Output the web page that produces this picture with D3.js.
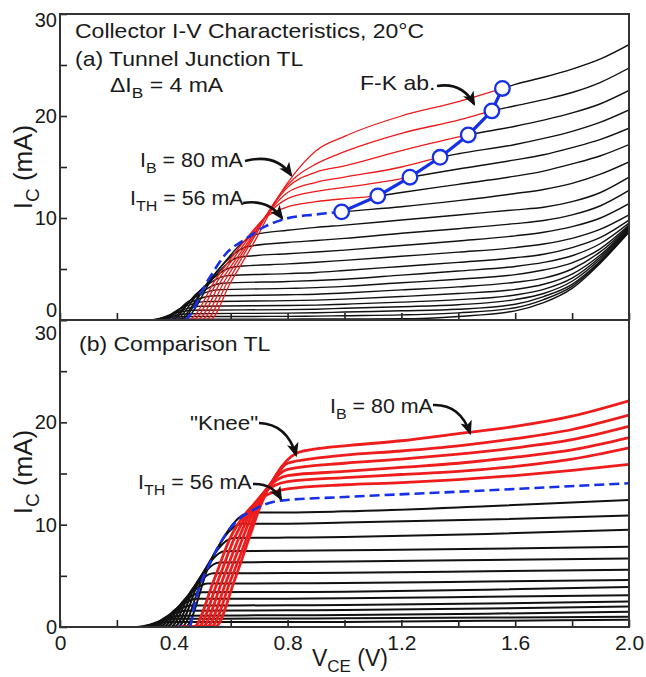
<!DOCTYPE html>
<html>
<head>
<meta charset="utf-8">
<script src="https://cdn.jsdelivr.net/npm/d3@7"></script>
<style>
  body { margin: 0; background: #fff; }
  svg text { font-family: Arial, "Liberation Sans", sans-serif; fill: #1a1a1a; }
</style>
</head>
<body>
<svg id="chart" width="646" height="677"></svg>
<script>
// base currents (mA)
const ibBlack = [0, 4, 8, 12, 16, 20, 24, 28, 32, 36, 40, 44, 48, 52];
const ibThreshold = 56;
const ibRed = [60, 64, 68, 72, 76, 80];

// axis ticks
const xTicks = [0, 0.2, 0.4, 0.6, 0.8, 1.0, 1.2, 1.4, 1.6, 1.8, 2.0];
const xLabels = ["0", "", "0.4", "", "0.8", "", "1.2", "", "1.6", "", "2.0"];
const yTicks = [0, 5, 10, 15, 20, 25, 30];
const yLabels = ["0", "", "10", "", "20", "", "30"];

// ---- (a) Tunnel Junction TL ----
// turn-on part of each black curve, [V, mA]
const topBlackRise = [
  [[0.30, 0], [0.36, 0.05], [0.42, 0.08]],
  [[0.31, 0], [0.37, 0.2], [0.43, 0.33]],
  [[0.32, 0], [0.38, 0.35], [0.45, 0.62]],
  [[0.33, 0], [0.39, 0.55], [0.47, 0.95]],
  [[0.34, 0], [0.41, 0.8], [0.49, 1.35]],
  [[0.35, 0], [0.42, 1.1], [0.51, 1.8]],
  [[0.36, 0], [0.44, 1.45], [0.53, 2.35]],
  [[0.37, 0], [0.45, 1.8], [0.55, 2.95]],
  [[0.38, 0], [0.47, 2.2], [0.57, 3.6]],
  [[0.39, 0], [0.48, 2.6], [0.59, 4.35]],
  [[0.40, 0], [0.50, 3.1], [0.61, 5.2]],
  [[0.41, 0], [0.52, 3.6], [0.63, 6.15]],
  [[0.42, 0], [0.53, 4.1], [0.66, 7.2]],
  [[0.43, 0], [0.55, 4.7], [0.69, 8.4]]
];
const topBlackV = [0.8, 0.9, 1.0, 1.2, 1.4, 1.6, 1.7, 1.8, 1.9, 2.0];
const topBlackIc = [
  [0.09, 0.1, 0.1, 0.12, 0.35, 0.9, 1.7, 3.1, 5.6, 8.6],
  [0.36, 0.38, 0.42, 0.5, 0.7, 1.2, 2.0, 3.3, 5.7, 8.7],
  [0.67, 0.71, 0.78, 0.9, 1.05, 1.55, 2.3, 3.5, 5.8, 8.8],
  [1.02, 1.06, 1.15, 1.3, 1.5, 2.0, 2.6, 3.8, 6.0, 8.9],
  [1.42, 1.46, 1.55, 1.75, 2.0, 2.45, 3.0, 4.1, 6.2, 9.0],
  [1.9, 1.95, 2.05, 2.3, 2.6, 3.0, 3.5, 4.5, 6.4, 9.1],
  [2.47, 2.53, 2.65, 2.95, 3.25, 3.7, 4.1, 5.0, 6.7, 9.2],
  [3.1, 3.17, 3.3, 3.65, 4.0, 4.45, 4.9, 5.6, 7.0, 9.3],
  [3.78, 3.87, 4.0, 4.4, 4.8, 5.25, 5.65, 6.3, 7.5, 9.5],
  [4.55, 4.66, 4.85, 5.25, 5.65, 6.1, 6.45, 7.1, 8.1, 9.8],
  [5.5, 5.66, 5.85, 6.25, 6.65, 7.1, 7.45, 8.0, 8.9, 10.3],
  [6.5, 6.66, 6.85, 7.3, 7.75, 8.25, 8.6, 9.15, 10.0, 11.4],
  [7.6, 7.8, 8.0, 8.5, 8.95, 9.45, 9.75, 10.3, 11.2, 12.7],
  [8.8, 9.08, 9.3, 9.8, 10.3, 10.8, 11.05, 11.6, 12.5, 14.0]
];
const topThreshold = [[0.435, 0], [0.52, 3.9], [0.59, 6.7], [0.645, 7.8], [0.72, 9.15], [0.79, 9.9],
  [0.9, 10.35], [0.99, 10.6], [1.2, 11.1], [1.4, 11.7], [1.6, 12.4], [1.7, 12.8], [1.8, 13.4], [1.9, 14.3], [2.0, 15.5]];
const topRed = [
  [[0.45, 0], [0.55, 4.1], [0.65, 7.8], [0.72, 10.0], [0.8, 11.1], [0.9, 11.6], [1.0, 11.9], [1.117, 12.16],
   [1.2, 12.5], [1.4, 13.3], [1.6, 14.1], [1.7, 14.6], [1.8, 15.3], [1.9, 16.1], [2.0, 17.2]],
  [[0.465, 0], [0.56, 4.1], [0.66, 7.9], [0.73, 10.4], [0.8, 11.9], [0.9, 12.6], [1.0, 13.0], [1.1, 13.4], [1.23, 14.0],
   [1.4, 14.8], [1.6, 15.7], [1.7, 16.2], [1.8, 16.9], [1.9, 17.7], [2.0, 18.8]],
  [[0.48, 0], [0.57, 4.0], [0.67, 8.0], [0.74, 10.8], [0.8, 12.5], [0.9, 13.5], [1.0, 14.0], [1.2, 15.0], [1.336, 15.95],
   [1.4, 16.3], [1.6, 17.2], [1.7, 17.8], [1.8, 18.5], [1.9, 19.4], [2.0, 20.6]],
  [[0.495, 0], [0.58, 3.9], [0.675, 8.0], [0.75, 11.3], [0.8, 13.0], [0.9, 14.5], [1.0, 15.1], [1.2, 16.6], [1.435, 18.14],
   [1.6, 19.0], [1.7, 19.6], [1.8, 20.3], [1.9, 21.2], [2.0, 22.5]],
  [[0.51, 0], [0.59, 3.8], [0.68, 8.0], [0.76, 11.8], [0.82, 13.8], [0.9, 15.3], [1.0, 16.5], [1.2, 18.3], [1.4, 19.6], [1.518, 20.5],
   [1.6, 21.0], [1.7, 21.6], [1.8, 22.3], [1.9, 23.3], [2.0, 24.7]],
  [[0.525, 0], [0.60, 3.7], [0.69, 8.0], [0.77, 12.2], [0.82, 14.2], [0.9, 16.6], [1.0, 18.0], [1.2, 20.0], [1.4, 21.4], [1.555, 22.7],
   [1.6, 23.1], [1.7, 23.8], [1.8, 24.6], [1.9, 25.6], [2.0, 27.0]]
];
// Franz-Keldysh absorption onset points (56, 60 ... 80 mA)
const fkV = [0.99, 1.117, 1.23, 1.336, 1.435, 1.518, 1.555];
const fkI = [10.6, 12.16, 14.0, 15.95, 18.14, 20.5, 22.7];

// ---- (b) Comparison TL ----
const botBlackRise = [
  [[0.27, 0], [0.33, 0.3], [0.38, 0.48]],
  [[0.283, 0], [0.345, 0.5], [0.40, 0.8]],
  [[0.296, 0], [0.36, 0.7], [0.42, 1.1]],
  [[0.309, 0], [0.375, 1.0], [0.44, 1.6]],
  [[0.322, 0], [0.39, 1.3], [0.46, 2.1]],
  [[0.335, 0], [0.405, 1.7], [0.48, 2.75]],
  [[0.348, 0], [0.42, 2.1], [0.50, 3.4]],
  [[0.361, 0], [0.435, 2.6], [0.52, 4.25]],
  [[0.374, 0], [0.45, 3.1], [0.54, 5.25]],
  [[0.387, 0], [0.465, 3.7], [0.56, 6.3]],
  [[0.40, 0], [0.48, 4.3], [0.58, 7.4]],
  [[0.413, 0], [0.495, 4.9], [0.61, 8.7]],
  [[0.426, 0], [0.51, 5.5], [0.64, 10.1]],
  [[0.439, 0], [0.525, 6.1], [0.67, 11.2]]
];
const botBlackV = [0.8, 1.0, 1.5, 2.0];
const botBlackIc = [
  [0.49, 0.5, 0.6, 0.7],
  [0.83, 0.85, 0.92, 1.0],
  [1.15, 1.17, 1.3, 1.5],
  [1.63, 1.66, 1.8, 2.0],
  [2.12, 2.15, 2.3, 2.5],
  [2.77, 2.8, 2.95, 3.1],
  [3.42, 3.45, 3.65, 3.9],
  [4.27, 4.3, 4.45, 4.6],
  [5.27, 5.3, 5.45, 5.6],
  [6.36, 6.4, 6.55, 6.7],
  [7.45, 7.5, 7.65, 7.85],
  [8.74, 8.8, 9.1, 9.5],
  [10.1, 10.2, 10.5, 10.9],
  [11.2, 11.3, 11.8, 12.4]
];
const botThreshold = [[0.455, 0], [0.475, 2.5], [0.53, 6.4], [0.6, 9.7], [0.69, 11.6], [0.775, 12.35],
  [1.0, 12.7], [1.5, 13.35], [2.0, 14.05]];
const botRedRise = [
  [[0.47, 0], [0.54, 4.5], [0.60, 8.8], [0.65, 11.0], [0.72, 12.8], [0.8, 13.5]],
  [[0.485, 0], [0.555, 4.5], [0.615, 8.8], [0.66, 11.1], [0.72, 13.2], [0.8, 14.2]],
  [[0.50, 0], [0.57, 4.5], [0.63, 8.8], [0.67, 11.2], [0.73, 13.6], [0.8, 14.8]],
  [[0.515, 0], [0.585, 4.5], [0.645, 8.9], [0.68, 11.3], [0.74, 14.0], [0.8, 15.4]],
  [[0.53, 0], [0.60, 4.6], [0.66, 9.0], [0.69, 11.4], [0.75, 14.4], [0.8, 16.0], [0.9, 16.5]],
  [[0.545, 0], [0.615, 4.7], [0.67, 9.1], [0.70, 11.5], [0.76, 14.9], [0.833, 17.0], [0.9, 17.4]]
];
const botRedV = [1.0, 1.2, 1.4, 1.6, 1.8, 2.0];
const botRedIc = [
  [13.9, 14.1, 14.4, 14.8, 15.3, 15.9],
  [14.6, 14.9, 15.2, 15.7, 16.4, 17.5],
  [15.2, 15.6, 16.0, 16.6, 17.3, 18.5],
  [16.0, 16.4, 16.9, 17.5, 18.3, 19.6],
  [16.8, 17.2, 17.7, 18.4, 19.3, 20.7],
  [17.7, 18.2, 18.9, 19.6, 20.6, 22.1]
];

// ---------- layout ----------
const svg = d3.select("#chart");
const left = 60, right = 629;
const topPanel = { y0: 320, y1: 14 };
const botPanel = { y0: 627, y1: 320 };

const x = d3.scaleLinear().domain([0, 2]).range([left, right]);
const yTop = d3.scaleLinear().domain([0, 30]).range([topPanel.y0, topPanel.y1]);
const yBot = d3.scaleLinear().domain([0, 30]).range([botPanel.y0, botPanel.y1]);

const defs = svg.append("defs");
defs.append("clipPath").attr("id", "clip-top").append("rect")
  .attr("x", left).attr("y", topPanel.y1).attr("width", right - left).attr("height", topPanel.y0 - topPanel.y1);
defs.append("clipPath").attr("id", "clip-bot").append("rect")
  .attr("x", left).attr("y", botPanel.y1).attr("width", right - left).attr("height", botPanel.y0 - botPanel.y1);
defs.append("marker").attr("id", "arrow")
  .attr("viewBox", "0 0 12 10").attr("refX", 10).attr("refY", 5)
  .attr("markerWidth", 15).attr("markerHeight", 12).attr("markerUnits", "userSpaceOnUse")
  .attr("orient", "auto")
  .append("path").attr("d", "M0,0 L12,5 L0,10 L3,5 Z").attr("fill", "#111");

// curve point lists: extra zero ahead of onset keeps the turn-on tangent flat
const withLead = pts => [[pts[0][0] - 0.05, 0]].concat(pts);
const riseAndFlat = (rise, vs, ics) => withLead(rise.concat(vs.map((v, j) => [v, ics[j]])));

function lineFor(yScale) {
  return d3.line().x(d => x(d[0])).y(d => yScale(d[1])).curve(d3.curveMonotoneX);
}

// clip halves left / right of a given voltage
let clipId = 0;
function splitClip(v, side, panel) {
  const id = "split" + (clipId++);
  const xv = x(v);
  defs.append("clipPath").attr("id", id).append("rect")
    .attr("x", side === "left" ? left : xv)
    .attr("y", panel.y1)
    .attr("width", side === "left" ? xv - left : right - xv)
    .attr("height", panel.y0 - panel.y1);
  return "url(#" + id + ")";
}

// ---------- (a) top panel ----------
const gTop = svg.append("g").attr("clip-path", "url(#clip-top)");
const lineTop = lineFor(yTop);

ibBlack.forEach((ib, i) => {
  gTop.append("path")
    .datum(riseAndFlat(topBlackRise[i], topBlackV, topBlackIc[i]))
    .attr("fill", "none").attr("stroke", "#111").attr("stroke-width", 1.4)
    .attr("d", lineTop);
});

// red parts end at the F-K points and continue in black
ibRed.forEach((ib, i) => {
  const pts = withLead(topRed[i]);
  gTop.append("g").attr("clip-path", splitClip(fkV[i + 1], "right", topPanel))
    .append("path").datum(pts)
    .attr("fill", "none").attr("stroke", "#111").attr("stroke-width", 1.4).attr("d", lineTop);
  gTop.append("g").attr("clip-path", splitClip(fkV[i + 1], "left", topPanel))
    .append("path").datum(pts)
    .attr("fill", "none").attr("stroke", "#ee1a1a").attr("stroke-width", 1.3).attr("d", lineTop);
});

{
  const pts = withLead(topThreshold);
  gTop.append("g").attr("clip-path", splitClip(fkV[0], "right", topPanel))
    .append("path").datum(pts)
    .attr("fill", "none").attr("stroke", "#111").attr("stroke-width", 1.4).attr("d", lineTop);
  gTop.append("g").attr("clip-path", splitClip(fkV[0], "left", topPanel))
    .append("path").datum(pts)
    .attr("fill", "none").attr("stroke", "#1530e6").attr("stroke-width", 2.6)
    .attr("stroke-dasharray", "10,5").attr("d", lineTop);
}

const fkPts = fkV.map((v, i) => [v, fkI[i]]);
gTop.append("path").datum(fkPts)
  .attr("fill", "none").attr("stroke", "#1530e6").attr("stroke-width", 3.2)
  .attr("d", d3.line().x(d => x(d[0])).y(d => yTop(d[1])));
gTop.selectAll("circle.fk").data(fkPts).join("circle").attr("class", "fk")
  .attr("cx", d => x(d[0])).attr("cy", d => yTop(d[1])).attr("r", 7.3)
  .attr("fill", "#fff").attr("stroke", "#1530e6").attr("stroke-width", 2.3);

// ---------- (b) bottom panel ----------
const gBot = svg.append("g").attr("clip-path", "url(#clip-bot)");
const lineBot = lineFor(yBot);

ibBlack.forEach((ib, i) => {
  gBot.append("path")
    .datum(riseAndFlat(botBlackRise[i], botBlackV, botBlackIc[i]))
    .attr("fill", "none").attr("stroke", "#111").attr("stroke-width", 2)
    .attr("d", lineBot);
});
ibRed.forEach((ib, i) => {
  gBot.append("path")
    .datum(riseAndFlat(botRedRise[i], botRedV, botRedIc[i]))
    .attr("fill", "none").attr("stroke", "#ee1c1c").attr("stroke-width", 2.8)
    .attr("d", lineBot);
});
gBot.append("path").datum(withLead(botThreshold))
  .attr("fill", "none").attr("stroke", "#1530e6").attr("stroke-width", 2.6)
  .attr("stroke-dasharray", "10,5").attr("d", lineBot);

// ---------- axes & frame ----------
function drawAxes(yScale, panel, withXLabels) {
  const ax = svg.append("g").attr("transform", `translate(0,${panel.y0})`)
    .call(d3.axisBottom(x).tickValues(xTicks).tickSize(-7).tickPadding(8)
      .tickFormat((d, i) => withXLabels ? xLabels[i] : ""));
  ax.select(".domain").remove();
  ax.selectAll("line").attr("stroke", "#222").attr("stroke-width", 1.6);
  ax.selectAll("text").attr("font-size", 21).attr("fill", "#1a1a1a")
    .attr("font-family", "Arial, 'Liberation Sans', sans-serif");

  const ay = svg.append("g").attr("transform", `translate(${left},0)`)
    .call(d3.axisLeft(yScale).tickValues(yTicks).tickSize(-7).tickPadding(3)
      .tickFormat((d, i) => yLabels[i]));
  ay.select(".domain").remove();
  ay.selectAll("line").attr("stroke", "#222").attr("stroke-width", 1.6);
  ay.selectAll("text").attr("font-size", 20).attr("fill", "#1a1a1a")
    .attr("font-family", "Arial, 'Liberation Sans', sans-serif")
    .attr("dy", d => d === 30 ? (panel === topPanel ? "0.62em" : "0.95em")
      : (d === 0 && panel === topPanel ? "-0.2em" : "0.32em"));

  svg.append("rect").attr("x", left).attr("y", panel.y1)
    .attr("width", right - left).attr("height", panel.y0 - panel.y1)
    .attr("fill", "none").attr("stroke", "#333").attr("stroke-width", 2);
}
drawAxes(yTop, topPanel, false);
drawAxes(yBot, botPanel, true);

// ---------- text ----------
// the figure's lettering is set a little wide, hence the horizontal stretch
function label(xp, yp, parts, stretch) {
  const size = 20;
  const t = svg.append("text").attr("transform", `translate(${xp},${yp}) scale(${stretch},1)`)
    .attr("font-size", size);
  parts.forEach(p => {
    const s = t.append("tspan").text(p.t);
    if (p.sub) s.attr("font-size", size * 0.75).attr("dy", size * 0.28);
    if (p.back) s.attr("dy", -size * 0.28);
  });
  return t;
}
function arrow(d) {
  svg.append("path").attr("d", d).attr("fill", "none").attr("stroke", "#111")
    .attr("stroke-width", 2.6).attr("marker-end", "url(#arrow)");
}

label(75, 38, [{ t: "Collector I-V Characteristics, 20°C" }], 1.15);
label(75, 66, [{ t: "(a) Tunnel Junction TL" }], 1.15);
label(110, 92, [{ t: "ΔI" }, { t: "B", sub: true }, { t: " = 4 mA", back: true }], 1.15);
label(140, 167, [{ t: "I" }, { t: "B", sub: true }, { t: " = 80 mA", back: true }], 1.07);
label(130, 205, [{ t: "I" }, { t: "TH", sub: true }, { t: " = 56 mA", back: true }], 1.07);
label(360, 90, [{ t: "F-K ab." }], 1.15);
arrow("M245,161 Q276,153 291,175");
arrow("M243,203 Q268,199 282,218");
arrow("M437,86 Q462,82 474,104");

label(79, 351, [{ t: "(b) Comparison TL" }], 1.15);
label(190, 430, [{ t: "\"Knee\"" }], 1.12);
label(138, 489, [{ t: "I" }, { t: "TH", sub: true }, { t: " = 56 mA", back: true }], 1.07);
label(330, 413, [{ t: "I" }, { t: "B", sub: true }, { t: " = 80 mA", back: true }], 1.07);
arrow("M259,423 Q287,424 296,455");
arrow("M253,484 Q272,483 281,499");
arrow("M433,405 Q460,404 470,433");

// axis titles
function yTitle(cy) {
  svg.append("text").attr("transform", `translate(32,${cy}) rotate(-90)`).attr("text-anchor", "middle")
    .attr("font-size", 26).call(t => {
      t.append("tspan").text("I");
      t.append("tspan").text("C").attr("font-size", 19).attr("dy", 7);
      t.append("tspan").text(" (mA)").attr("dy", -7);
    });
}
yTitle(167);
yTitle(472);
svg.append("text").attr("x", 350).attr("y", 666).attr("text-anchor", "middle")
  .attr("font-size", 23).call(t => {
    t.append("tspan").text("V");
    t.append("tspan").text("CE").attr("font-size", 17).attr("dy", 6);
    t.append("tspan").text(" (V)").attr("dy", -6);
  });
</script>
</body>
</html>
